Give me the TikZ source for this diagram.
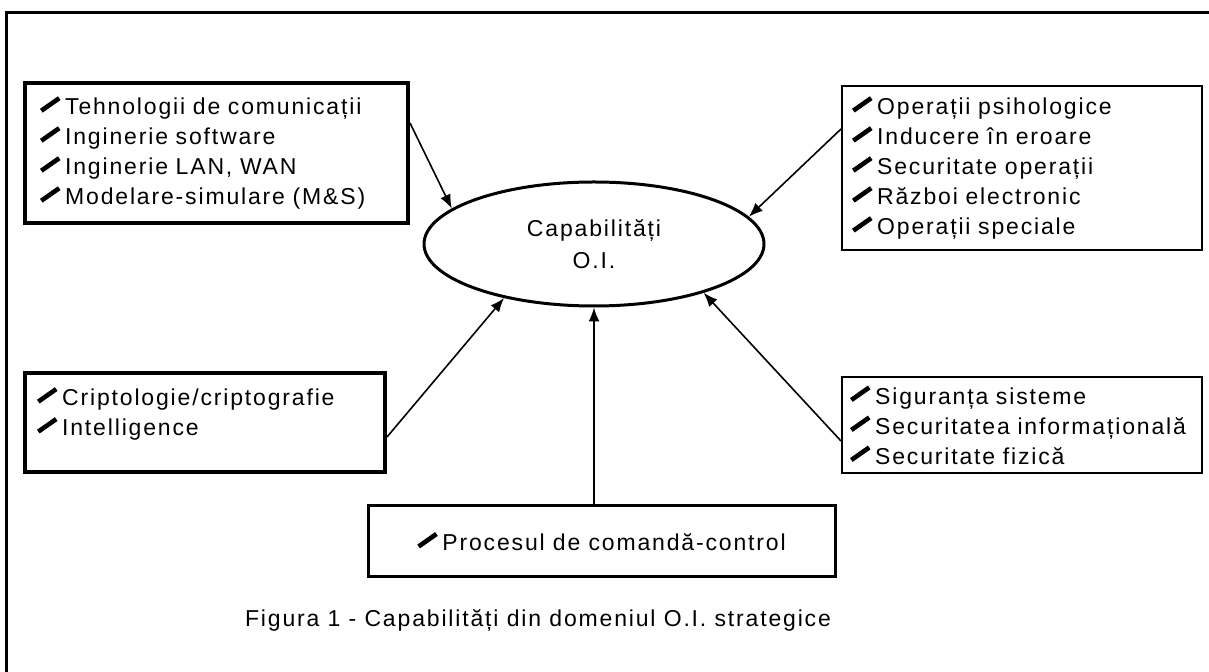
\documentclass[tikz,border=0pt]{standalone}
\usepackage{fontspec}
\setmainfont{Liberation Sans}
\newfontfamily\capfont{Liberation Sans}[LetterSpace=8]
\usetikzlibrary{arrows.meta,shapes.geometric}
\newcommand\pen{\raisebox{0.1em}{\rotatebox{35}{\rule{0.95em}{0.2em}}}\hspace{0.2em}}

\begin{document}
\begin{tikzpicture}[
  x=0.5pt, y=-0.5pt,
  capbox/.style={
    draw, line width=2pt, align=left,
    font={\fontsize{11.5}{15}\capfont}
  },
  thinbox/.style={capbox, line width=1pt},
  conn/.style={-{Latex[length=7pt,width=5.5pt]}, line width=0.8pt}
]
  \useasboundingbox (0,0) rectangle (1209,672);
  \draw[line width=1.75pt] (1209,12.5) -- (6.5,12.5) -- (6.5,672);
  \node[capbox, text width=176.5pt, inner xsep=7.5pt, minimum height=70pt] (tech) at (216.5,153) {%
    \pen Tehnologii de comunicații\\
    \pen Inginerie software\\
    \pen Inginerie LAN, WAN\\
    \pen Modelare-simulare (M\&S)};
  \node[thinbox, text width=170pt, inner xsep=5pt, minimum height=82pt] (psy) at (1022,168) {%
    \pen Operații psihologice\\
    \pen Inducere în eroare\\
    \pen Securitate operații\\
    \pen Război electronic\\
    \pen Operații speciale};
  \node[capbox, text width=168pt, inner xsep=6pt, minimum height=49.5pt] (crypt) at (205,422.5) {%
    \pen Criptologie/criptografie\\
    \pen Intelligence\\[-4pt]\mbox{}};
  \node[thinbox, text width=172pt, inner xsep=4pt, minimum height=48pt] (secur) at (1022,425) {%
    \pen Siguranța sisteme\\
    \pen Securitatea informațională\\
    \pen Securitate fizică};
  \node[capbox, line width=1.5pt, align=center, minimum width=233.5pt, minimum height=35.5pt] (cmd) at (601.5,541.5) {\pen Procesul de comandă-control};
  \node[ellipse, draw, line width=1.5pt, minimum width=170pt, minimum height=62pt, inner sep=0pt, align=center, font={\fontsize{11.5}{16}\capfont}] (cap) at (594,244) {Capabilități\\O.I.};
  \node[font={\fontsize{11.5}{15}\capfont}] (fig) at (538,620) {Figura 1 - Capabilități din domeniul O.I. strategice};
  \draw[conn] ([yshift=-21pt]tech.north east) -- (cap.166);
  \draw[conn] ([yshift=-22pt]psy.north west) -- (cap.10);
  \draw[conn] ([yshift=18.5pt]crypt.south east) -- (cap.211);
  \draw[conn] ([yshift=16.5pt]secur.south west) -- (cap.-24);
  \draw[conn] (cap.south |- cmd.north) -- (cap.south);
\end{tikzpicture}
\end{document}
